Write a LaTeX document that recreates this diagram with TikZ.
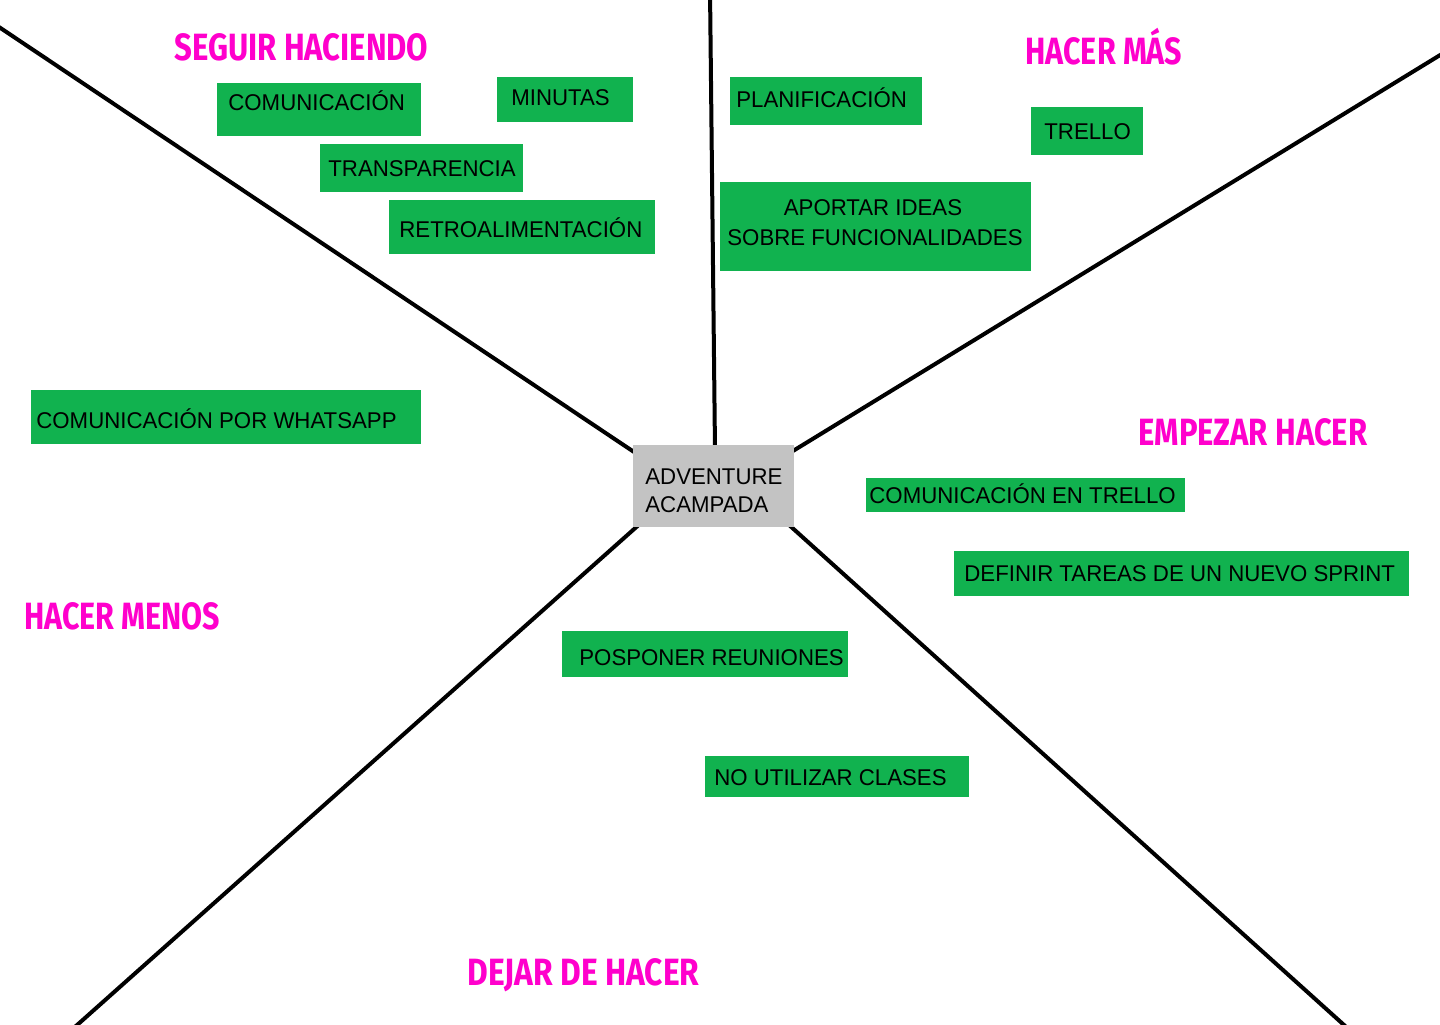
\documentclass[tikz,border=0pt]{standalone}
\usepackage{fontspec}
\setmainfont[FakeStretch=0.975]{Liberation Sans}
\newfontfamily\titlefont{Fira Sans}
\usepackage{graphicx}
\definecolor{gfill}{HTML}{11B24F}
\definecolor{mag}{HTML}{FF00CC}
\definecolor{gbg}{HTML}{C3C3C3}
\tikzset{
  gbox/.style={fill=gfill, draw=none, inner sep=0pt, anchor=north west, rectangle},
  cbox/.style={fill=gbg, draw=none, inner sep=0pt, anchor=north west, rectangle},
  txt/.style={inner sep=0pt, anchor=base west, font=\fontsize{11.4}{14}\selectfont, text=black},
  ttl/.style={inner sep=0pt, anchor=base west, text=mag, font=\titlefont\bfseries\fontsize{19}{22}\selectfont},
  spoke/.style={line width=2pt, draw=black}
}
\begin{document}
\begin{tikzpicture}[x=0.5pt,y=-0.5pt]
\useasboundingbox (0,0) rectangle (1440,1024);
\clip (0,0) rectangle (1440,1024);
% spokes
\coordinate (eTL) at (-10,21);
\coordinate (eT) at (710,-10);
\coordinate (eTR) at (1450,49);
\coordinate (eBL) at (67,1034);
\coordinate (eBR) at (1354,1034);
\coordinate (iTL) at (640,456);
\coordinate (iT) at (715,450);
\coordinate (iTR) at (788,454);
\coordinate (iBL) at (642,522);
\coordinate (iBR) at (788,524);
\draw[spoke] (eTL) -- (iTL);
\draw[spoke] (eT) -- (iT);
\draw[spoke] (eTR) -- (iTR);
\draw[spoke] (eBL) -- (iBL);
\draw[spoke] (eBR) -- (iBR);
% center
\node[cbox, minimum width=80.5pt, minimum height=41pt] (c) at (633,445) {};
\node[txt] (c1) at (645,484) {ADVENTURE};
\node[txt] (c2) at (645,512) {ACAMPADA};
% titles
\node[ttl] (h1) at (174,60) {\resizebox{127pt}{\height}{SEGUIR HACIENDO}};
\node[ttl] (h2) at (1025,64) {\resizebox{78.5pt}{\height}{HACER MÁS}};
\node[ttl] (h3) at (1138,445) {\resizebox{114.5pt}{\height}{EMPEZAR HACER}};
\node[ttl] (h4) at (24,629) {\resizebox{98pt}{\height}{HACER MENOS}};
\node[ttl] (h5) at (467,985) {\resizebox{116pt}{\height}{DEJAR DE HACER}};
% green boxes
\node[gbox, minimum width=102pt, minimum height=26.5pt] (b1) at (217,83) {};
\node[txt] (t1) at (228,110) {COMUNICACIÓN};
\node[gbox, minimum width=68pt, minimum height=22.5pt] (b2) at (497,77) {};
\node[txt] (t2) at (511,105) {MINUTAS};
\node[gbox, minimum width=101.5pt, minimum height=24pt] (b3) at (320,144) {};
\node[txt] (t3) at (328,176) {TRANSPARENCIA};
\node[gbox, minimum width=133pt, minimum height=27pt] (b4) at (389,200) {};
\node[txt] (t4) at (399,237) {RETROALIMENTACIÓN};
\node[gbox, minimum width=96pt, minimum height=24pt] (b5) at (730,77) {};
\node[txt] (t5) at (736,107) {PLANIFICACIÓN};
\node[gbox, minimum width=56pt, minimum height=24pt] (b6) at (1031,107) {};
\node[txt] (t6) at (1044,139) {TRELLO};
\node[gbox, minimum width=155.5pt, minimum height=44.5pt] (b7) at (720,182) {};
\node[txt, anchor=base] (t7a) at (873,215) {APORTAR IDEAS};
\node[txt, anchor=base] (t7b) at (875,245) {SOBRE FUNCIONALIDADES};
\node[gbox, minimum width=195pt, minimum height=27pt] (b8) at (31,390) {};
\node[txt] (t8) at (36,428) {COMUNICACIÓN POR WHATSAPP};
\node[gbox, minimum width=159.5pt, minimum height=17pt] (b9) at (866,478) {};
\node[txt] (t9) at (869,503) {COMUNICACIÓN EN TRELLO};
\node[gbox, minimum width=227.5pt, minimum height=22.5pt] (b10) at (954,551) {};
\node[txt] (t10) at (964,581) {DEFINIR TAREAS DE UN NUEVO SPRINT};
\node[gbox, minimum width=143pt, minimum height=23pt] (b11) at (562,631) {};
\node[txt] (t11) at (579,665) {POSPONER REUNIONES};
\node[gbox, minimum width=132pt, minimum height=20.5pt] (b12) at (705,756) {};
\node[txt] (t12) at (714,785) {NO UTILIZAR CLASES};
\end{tikzpicture}
\end{document}
